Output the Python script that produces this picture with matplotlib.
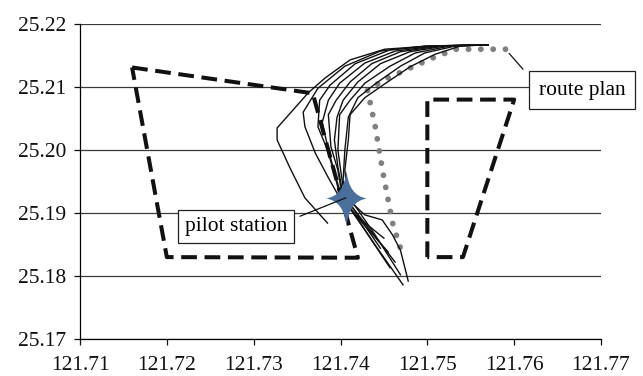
import numpy as np
import matplotlib
matplotlib.use("Agg")
import matplotlib.pyplot as plt
from matplotlib.path import Path
from matplotlib.ticker import FormatStrFormatter

plt.rcParams['font.family'] = ['Liberation Serif', 'DejaVu Serif']

# 船舶航迹 (经度, 纬度)
tracks = [
    ([121.7570, 121.7503, 121.7451, 121.7411, 121.7382, 121.7363, 121.7327, 121.7327, 121.7342, 121.7359, 121.7385],
     [25.2167, 25.2165, 25.2160, 25.2143, 25.2114, 25.2091, 25.2035, 25.2016, 25.1971, 25.1924, 25.1884]),
    ([121.7570, 121.7497, 121.7446, 121.7405, 121.7374, 121.7357, 121.7359, 121.7371, 121.7386, 121.7397, 121.7417, 121.7450],
     [25.2167, 25.2165, 25.2157, 25.2133, 25.2098, 25.2060, 25.2037, 25.1995, 25.1956, 25.1929, 25.1897, 25.1860]),
    ([121.7570, 121.7503, 121.7457, 121.7417, 121.7388, 121.7376, 121.7374, 121.7385, 121.7394, 121.7399, 121.7422, 121.7455],
     [25.2167, 25.2165, 25.2159, 25.2137, 25.2103, 25.2079, 25.2037, 25.2000, 25.1957, 25.1929, 25.1889, 25.1838]),
    ([121.7570, 121.7509, 121.7463, 121.7428, 121.7399, 121.7386, 121.7379, 121.7386, 121.7394, 121.7401, 121.7428, 121.7457],
     [25.2167, 25.2165, 25.2157, 25.2138, 25.2106, 25.2079, 25.2044, 25.2000, 25.1960, 25.1927, 25.1873, 25.1813]),
    ([121.7570, 121.7515, 121.7469, 121.7436, 121.7411, 121.7395, 121.7386, 121.7389, 121.7397, 121.7402, 121.7440, 121.7472],
     [25.2167, 25.2165, 25.2156, 25.2137, 25.2108, 25.2079, 25.2056, 25.2005, 25.1968, 25.1927, 25.1849, 25.1786]),
    ([121.7570, 121.7520, 121.7480, 121.7446, 121.7420, 121.7403, 121.7396, 121.7393, 121.7397, 121.7403, 121.7428, 121.7448, 121.7460, 121.7469, 121.7478],
     [25.2167, 25.2165, 25.2156, 25.2137, 25.2108, 25.2079, 25.2052, 25.2016, 25.1973, 25.1929, 25.1897, 25.1889, 25.1865, 25.1841, 25.1792]),
    ([121.7570, 121.7526, 121.7486, 121.7457, 121.7428, 121.7411, 121.7399, 121.7397, 121.7401, 121.7405, 121.7434, 121.7463],
     [25.2167, 25.2165, 25.2154, 25.2133, 25.2106, 25.2079, 25.2056, 25.2000, 25.1960, 25.1925, 25.1873, 25.1822]),
    ([121.7570, 121.7532, 121.7497, 121.7469, 121.7440, 121.7420, 121.7409, 121.7405, 121.7403, 121.7406, 121.7425, 121.7446],
     [25.2167, 25.2165, 25.2154, 25.2133, 25.2105, 25.2083, 25.2052, 25.2000, 25.1952, 25.1924, 25.1886, 25.1844]),
    ([121.7570, 121.7538, 121.7509, 121.7480, 121.7451, 121.7428, 121.7411, 121.7409, 121.7405, 121.7408, 121.7440, 121.7469],
     [25.2167, 25.2165, 25.2152, 25.2132, 25.2105, 25.2083, 25.2056, 25.2016, 25.1968, 25.1929, 25.1865, 25.1802]),
]

# 计划航线
route_lon = [121.7590, 121.7533, 121.7506, 121.7480, 121.7454, 121.7431, 121.7434, 121.7440, 121.7449, 121.7460, 121.7469]
route_lat = [25.2160, 25.2160, 25.2146, 25.2130, 25.2114, 25.2095, 25.2076, 25.2037, 25.1963, 25.1884, 25.1844]

# 两个虚线区域
zone1_lon = [121.7160, 121.7368, 121.7420, 121.7200, 121.7160]
zone1_lat = [25.2131, 25.2090, 25.1829, 25.1830, 25.2131]
zone2_lon = [121.7500, 121.7500, 121.7600, 121.7541, 121.7500]
zone2_lat = [25.1830, 25.2080, 25.2080, 25.1830, 25.1830]

# 引航站
station = (121.7406, 25.1924)

xticks = [121.71, 121.72, 121.73, 121.74, 121.75, 121.76, 121.77]
yticks = [25.17, 25.18, 25.19, 25.20, 25.21, 25.22]

fig = plt.figure(figsize=(6.43, 3.76), dpi=100)
ax = fig.add_axes([0.1244, 0.0984, 0.8103, 0.8378])

for y in yticks:
    ax.axhline(y, color='#3a3a3a', lw=0.9, zorder=1)

ax.plot(zone1_lon, zone1_lat, color='#111111', lw=2.9, ls=(0, (3.9, 1.9)), zorder=2)
ax.plot(zone2_lon, zone2_lat, color='#111111', lw=2.9, ls=(0, (3.9, 1.9)), zorder=2)
ax.plot(route_lon, route_lat, color='#808080', lw=4.2, ls=(0, (0.01, 2.1)),
        dash_capstyle='round', zorder=2)
for lon, lat in tracks:
    ax.plot(lon, lat, color='#111111', lw=1.0, zorder=3)

C3 = Path.CURVE3
star = Path([(0, 1.35), (0.12, 0.12), (1, 0), (0.12, -0.12), (0, -1.35),
             (-0.12, -0.12), (-1, 0), (-0.12, 0.12), (0, 1.35)],
            [Path.MOVETO, C3, C3, C3, C3, C3, C3, C3, C3])
ax.plot(station[0], station[1], marker=star, ms=40, color='#4a6f9c', mew=0, zorder=5)

ax.annotate('pilot station', xy=station, xytext=(121.7280, 25.1879),
            fontsize=15.5, ha='center', va='center', zorder=6,
            bbox=dict(boxstyle='square,pad=0.32', fc='white', ec='#222222', lw=0.9),
            arrowprops=dict(arrowstyle='-', color='#111111', lw=0.9, relpos=(1, 0.76),
                            shrinkA=4, shrinkB=0))
ax.annotate('route plan', xy=(route_lon[0], route_lat[0]), xytext=(121.7678, 25.2095),
            fontsize=15.5, ha='center', va='center', zorder=6, annotation_clip=False,
            bbox=dict(boxstyle='square,pad=0.45', fc='white', ec='#222222', lw=0.9),
            arrowprops=dict(arrowstyle='-', color='#111111', lw=0.9, relpos=(0, 0.66),
                            shrinkA=6, shrinkB=4))

ax.set_xlim(121.71, 121.77)
ax.set_ylim(25.17, 25.22)
ax.set_xticks(xticks)
ax.set_yticks(yticks)
ax.xaxis.set_major_formatter(FormatStrFormatter('%.2f'))
ax.yaxis.set_major_formatter(FormatStrFormatter('%.2f'))
ax.tick_params(axis='both', direction='out', length=4, width=0.9, labelsize=15.5, colors='#111111')
ax.tick_params(axis='y', pad=6)
ax.tick_params(axis='x', pad=8)
for s in ['top', 'right']:
    ax.spines[s].set_visible(False)
ax.spines['left'].set_linewidth(0.9)
ax.spines['bottom'].set_linewidth(0.9)

fig.savefig('out.png', dpi=100)
